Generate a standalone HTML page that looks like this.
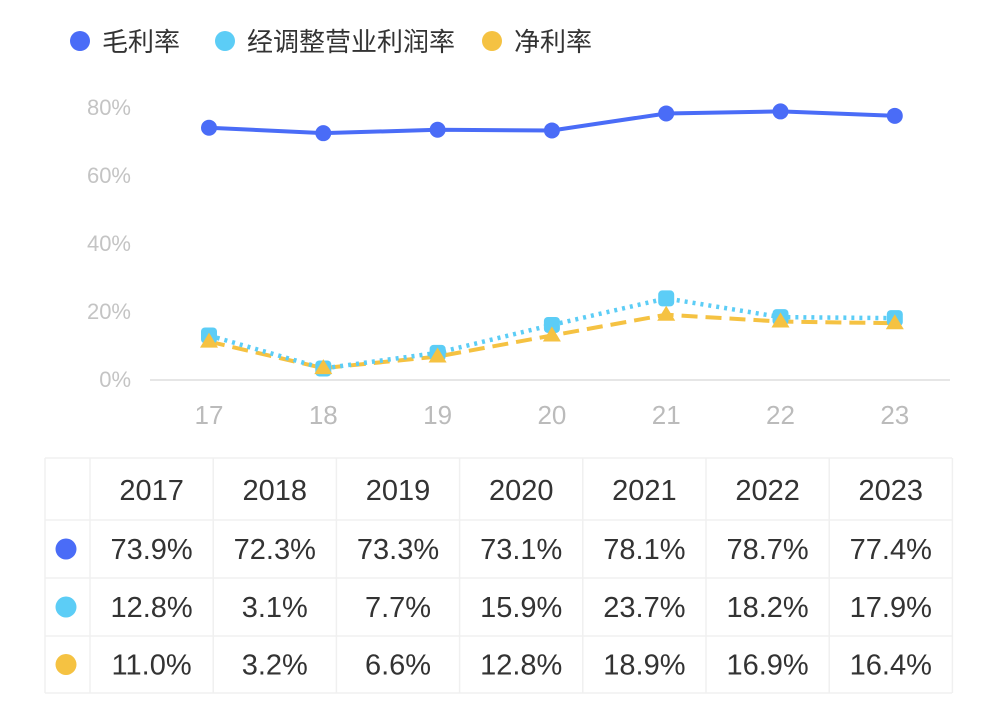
<!DOCTYPE html>
<html><head><meta charset="utf-8"><style>
body{margin:0;background:#fff;width:996px;height:700px;overflow:hidden;font-family:"Liberation Sans","Noto Sans CJK SC",sans-serif}
svg text{font-family:"Liberation Sans","Noto Sans CJK SC",sans-serif}
</style></head><body>
<svg id="c" width="996" height="700"></svg>
<script>
const years=["17","18","19","20","21","22","23"];
const fullYears=["2017","2018","2019","2020","2021","2022","2023"];
const gross=[73.9,72.3,73.3,73.1,78.1,78.7,77.4];
const adjOp=[12.8,3.1,7.7,15.9,23.7,18.2,17.9];
const net=[11.0,3.2,6.6,12.8,18.9,16.9,16.4];
const yTicks=[0,20,40,60,80];
const seriesNames=["毛利率","经调整营业利润率","净利率"];
const NS="http://www.w3.org/2000/svg";
const svg=document.getElementById('c');
function el(t,a,p){const e=document.createElementNS(NS,t);for(const k in a)e.setAttribute(k,a[k]);(p||svg).appendChild(e);return e;}
const x=i=>209+i*114.3;
const y=v=>379-v*3.4;
const colors=["#4a6cf7","#5ccdf6","#f5c242"];
const lx=[80,225,492];
seriesNames.forEach((n,i)=>{
 const g=el('g',{});
 
 
 el('circle',{cx:lx[i],cy:41,r:10,fill:colors[i]},g);
 const t=el('text',{x:lx[i]+22,y:51,'font-size':26,fill:'#333'},g);t.textContent=n;
});
yTicks.forEach(v=>{
 const t=el('text',{x:131,y:y(v)+8,'font-size':22,fill:'#c4c4c4','text-anchor':'end'});
 
 
 t.textContent=v+'%';
});
const ax=el('line',{x1:150,x2:950,y1:380,y2:380,stroke:'#e6e6e6','stroke-width':2});


years.forEach((c,i)=>{
 const t=el('text',{x:x(i),y:424,'font-size':26,fill:'#bbb','text-anchor':'middle'});
 
 
 t.textContent=c;
});
function line(vals,col,dash,w){
 const p=el('polyline',{points:vals.map((v,i)=>x(i)+','+y(v)).join(' '),fill:'none',stroke:col,'stroke-width':w,'stroke-dasharray':dash,'stroke-linejoin':'round'});
 
 
}
line(net,colors[2],'16 8',4);
line(adjOp,colors[1],'3 5',4.5);
line(gross,colors[0],'none',4);
gross.forEach((v,i)=>{const c=el('circle',{cx:x(i),cy:y(v),r:8,fill:colors[0]});});
adjOp.forEach((v,i)=>{const c=el('rect',{x:x(i)-8,y:y(v)-8,width:16,height:16,rx:4,fill:colors[1]});});
net.forEach((v,i)=>{const X=x(i),Y=y(v);const c=el('polygon',{points:`${X},${Y-9} ${X+9},${Y+6} ${X-9},${Y+6}`,fill:colors[2],'stroke-linejoin':'round'});});
const colX=[45,90];for(let i=1;i<=7;i++)colX.push(90+i*123.2);
const rowY=[458,520,578,636,693];
colX.forEach(cx=>el('line',{x1:cx,x2:cx,y1:458,y2:693,stroke:'#f0f0f0','stroke-width':1.5}));
rowY.forEach(ry=>el('line',{x1:45,x2:952,y1:ry,y2:ry,stroke:'#f0f0f0','stroke-width':1.5}));
fullYears.forEach((yr,i)=>{
 const t=el('text',{x:(colX[i+1]+colX[i+2])/2,y:500,'font-size':29,fill:'#333','text-anchor':'middle'});
 
 
 t.textContent=yr;
});
[gross,adjOp,net].forEach((arr,r)=>{
 const cy=(rowY[r+1]+rowY[r+2])/2;
 el('circle',{cx:66,cy:cy,r:10.5,fill:colors[r]});
 arr.forEach((v,i)=>{
  const t=el('text',{x:(colX[i+1]+colX[i+2])/2,y:cy+10,'font-size':29,fill:'#333','text-anchor':'middle'});
  
  
  t.textContent=v.toFixed(1)+'%';
 });
});
</script>
</body></html>
